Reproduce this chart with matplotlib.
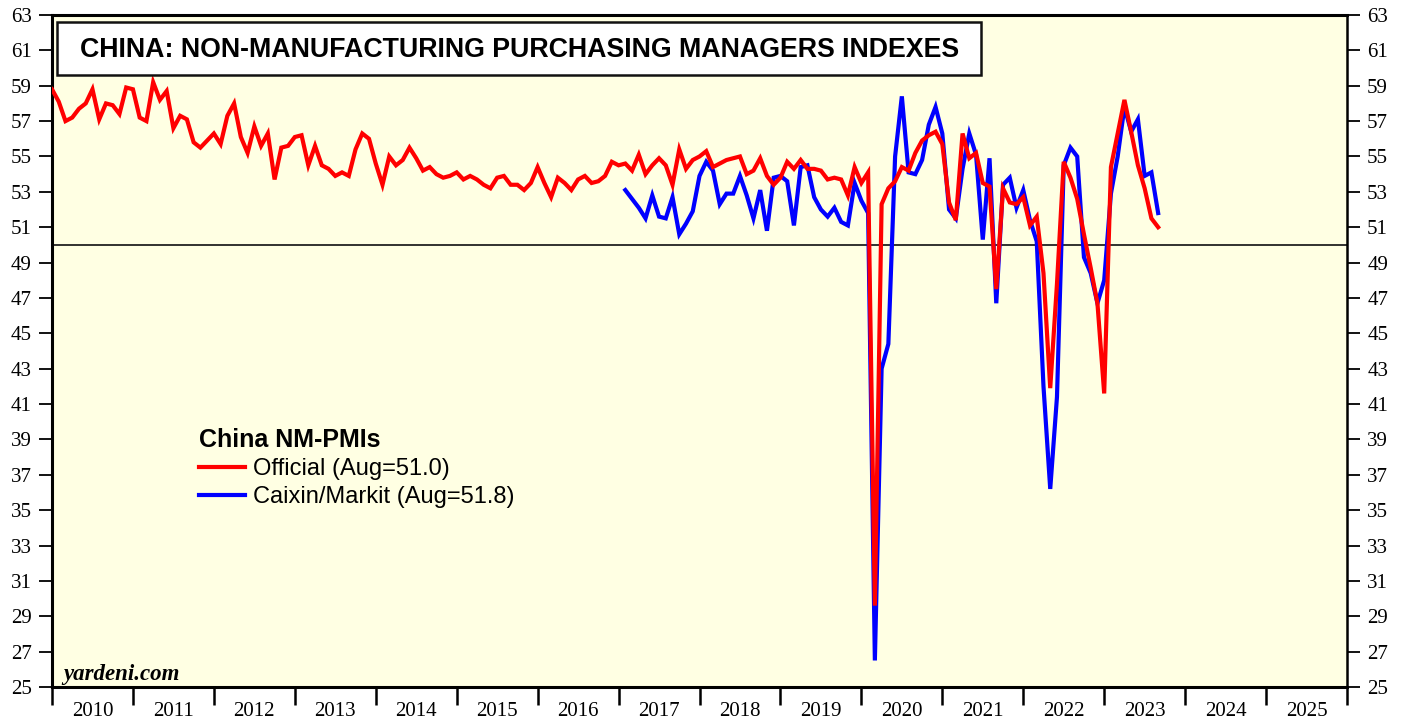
import numpy as np
import matplotlib.pyplot as plt
from matplotlib.patches import Rectangle

# Official NBS non-manufacturing PMI, Dec 2009 - Aug 2023 (plotted at month end)
official = [
    58.8,
    58.1, 57.0, 57.2, 57.7, 58.0, 58.8, 57.1, 58.0, 57.9, 57.4, 58.9, 58.8,
    57.2, 57.0, 59.2, 58.2, 58.7, 56.6, 57.3, 57.1, 55.8, 55.5, 55.9, 56.3,
    55.7, 57.3, 58.0, 56.1, 55.2, 56.7, 55.6, 56.3, 53.7, 55.5, 55.6, 56.1,
    56.2, 54.5, 55.6, 54.5, 54.3, 53.9, 54.1, 53.9, 55.4, 56.3, 56.0, 54.6,
    53.4, 55.0, 54.5, 54.8, 55.5, 54.9, 54.2, 54.4, 54.0, 53.8, 53.9, 54.1,
    53.7, 53.9, 53.7, 53.4, 53.2, 53.8, 53.9, 53.4, 53.4, 53.1, 53.5, 54.4,
    53.5, 52.7, 53.8, 53.5, 53.1, 53.7, 53.9, 53.5, 53.6, 53.9, 54.7, 54.5,
    54.6, 54.2, 55.1, 54.0, 54.5, 54.9, 54.5, 53.4, 55.4, 54.3, 54.8, 55.0,
    55.3, 54.4, 54.6, 54.8, 54.9, 55.0, 54.0, 54.2, 54.9, 53.9, 53.4, 53.8,
    54.7, 54.3, 54.8, 54.3, 54.3, 54.2, 53.7, 53.8, 53.7, 52.8, 54.4, 53.5,
    54.1, 29.6, 52.3, 53.2, 53.6, 54.4, 54.2, 55.2, 55.9, 56.2, 56.4, 55.7,
    52.4, 51.4, 56.3, 54.9, 55.2, 53.5, 53.3, 47.5, 53.2, 52.4, 52.3, 52.7,
    51.1, 51.6, 48.4, 41.9, 47.8, 54.7, 53.8, 52.6, 50.6, 48.7, 46.7, 41.6,
    54.4, 56.3, 58.2, 56.4, 54.5, 53.2, 51.5, 51.0,
]

# Caixin/Markit services PMI, Jan 2017 - Aug 2023
caixin = [
    53.1, 52.6, 52.1, 51.5, 52.8, 51.6, 51.5, 52.7, 50.6, 51.2, 51.9, 53.9,
    54.7, 54.2, 52.3, 52.9, 52.9, 53.9, 52.8, 51.5, 53.1, 50.8, 53.8, 53.9,
    53.6, 51.1, 54.4, 54.5, 52.7, 52.0, 51.6, 52.1, 51.3, 51.1, 53.5, 52.5,
    51.8, 26.5, 43.0, 44.4, 55.0, 58.4, 54.1, 54.0, 54.8, 56.8, 57.8, 56.3,
    52.0, 51.5, 54.3, 56.3, 55.1, 50.3, 54.9, 46.7, 53.4, 53.8, 52.1, 53.1,
    51.4, 50.2, 42.0, 36.2, 41.4, 54.5, 55.5, 55.0, 49.3, 48.4, 46.7, 48.0,
    52.9, 55.0, 57.8, 56.4, 57.1, 53.9, 54.1, 51.8,
]

years = list(range(2010, 2026))
y_ticks = list(range(25, 64, 2))


def month_ends(start_year, start_month, n):
    return start_year + (start_month + np.arange(n)) / 12.0


x_off = month_ends(2009, 12, len(official))
x_cx = month_ends(2017, 1, len(caixin))

serif = 'Liberation Serif'
sans = 'Liberation Sans'

fig = plt.figure(figsize=(14.07, 7.19), dpi=100)
ax = fig.add_axes([52 / 1407, 1 - 687 / 719, 1295 / 1407, 672 / 719])
ax.set_facecolor('#FFFFE3')

ax.axhline(50, color='#222222', lw=1.3, zorder=2)
ax.plot(x_cx, caixin, color='#0000FF', lw=3, solid_joinstyle='miter',
        label='Caixin/Markit (Aug=51.8)', zorder=3)
ax.plot(x_off, official, color='#FF0000', lw=3, solid_joinstyle='miter',
        label='Official (Aug=51.0)', zorder=4)

ax.set_xlim(2010, 2026)
ax.set_ylim(25, 63)

# y axis on both sides
ax.set_yticks(y_ticks)
ax.tick_params(axis='y', which='major', direction='out', length=9.5, width=1.3,
               left=True, right=True, labelleft=True, labelright=True,
               labelsize=15, pad=5)
for lab in ax.get_yticklabels():
    lab.set_fontfamily(serif)

# x axis: ticks at year boundaries, labels centred in between
ax.set_xticks([y + 0.5 for y in years])
ax.set_xticklabels([str(y) for y in years], fontfamily=serif, fontsize=15)
ax.set_xticks(range(2010, 2027), minor=True)
ax.tick_params(axis='x', which='major', length=0, pad=11)
ax.tick_params(axis='x', which='minor', direction='out', length=13, width=1.8)

for side in ['left', 'bottom', 'top']:
    ax.spines[side].set_linewidth(2.2)
ax.spines['right'].set_linewidth(1.8)

# title box
ax.add_patch(Rectangle((0.004, 0.9107), 0.7135, 0.0789, transform=ax.transAxes,
                       facecolor='white', edgecolor='#111111', lw=1.8, zorder=5))
ax.text(0.3607, 0.948, 'CHINA: NON-MANUFACTURING PURCHASING MANAGERS INDEXES',
        transform=ax.transAxes, ha='center', va='center', fontsize=19.3,
        fontweight='bold', fontfamily=sans, zorder=6)

# legend
handles, labels = ax.get_legend_handles_labels()
leg = ax.legend(handles[::-1], labels[::-1], title='China NM-PMIs',
                loc='upper left', bbox_to_anchor=(0.1045, 0.403), frameon=False,
                borderpad=0, handlelength=1.95, handletextpad=0.35,
                labelspacing=0.25, alignment='left',
                prop={'family': sans, 'size': 17},
                title_fontproperties={'family': sans, 'size': 18, 'weight': 'bold'})
for line in leg.get_lines():
    line.set_linewidth(3)

ax.text(0.0085, 0.0104, 'yardeni.com', transform=ax.transAxes, ha='left',
        va='baseline', fontsize=16.5, fontweight='bold', fontstyle='italic',
        fontfamily=serif)

fig.savefig('out.png', dpi=100)
